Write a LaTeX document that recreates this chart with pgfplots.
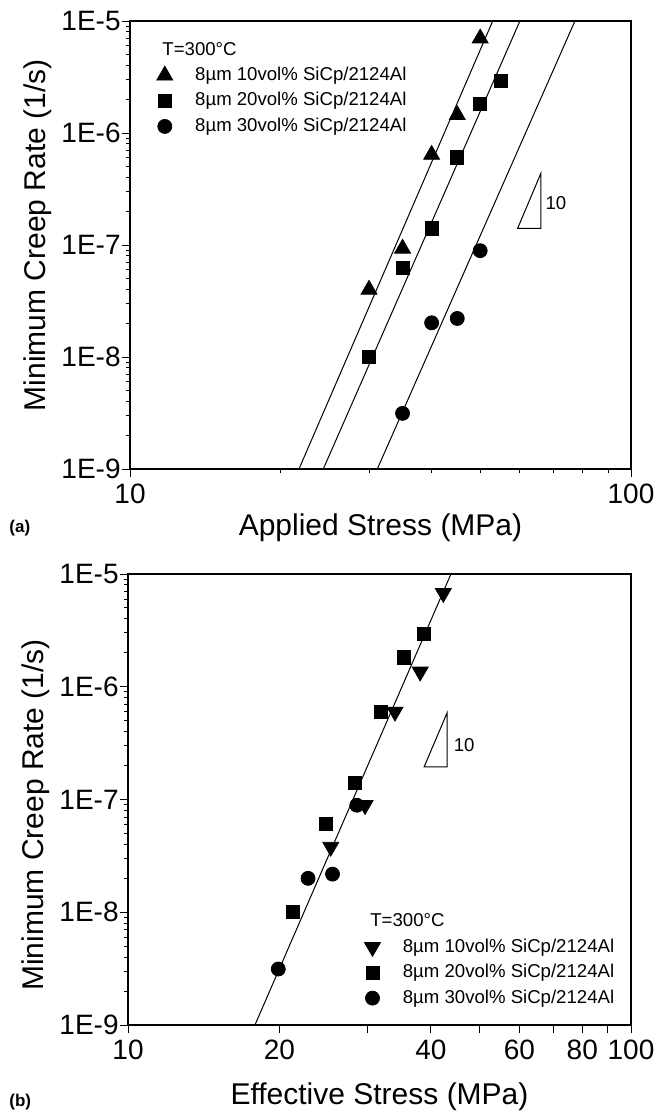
\documentclass[border=0pt]{standalone}
\usepackage{fontspec}
\setmainfont{Liberation Sans}
\usepackage{pgfplots}
\pgfplotsset{compat=1.18}

\begin{document}
\begin{tikzpicture}
\path[use as bounding box] (0,0) rectangle (333.5pt,-558pt);

% (a) applied stress
\begin{axis}[
  scale only axis,
  xmode=log, ymode=log,
  xmin=10, xmax=100, ymin=1e-9, ymax=1e-5,
  at={(65pt,-234.5pt)}, anchor=south west,
  width=250.5pt, height=224pt,
  axis line style={line width=0.7pt},
  tick style={line width=0.5pt, black},
  tick align=outside,
  tick pos=left,
  major tick length=4pt,
  minor tick length=2pt,
  xtick={10,100}, xticklabels={10,100},
  minor xtick={20,30,40,50,60,70,80,90},
  ytick={1e-9,1e-8,1e-7,1e-6,1e-5},
  yticklabels={1E-9,1E-8,1E-7,1E-6,1E-5},
  minor ytick={2e-9,3e-9,4e-9,5e-9,6e-9,7e-9,8e-9,9e-9,
               2e-8,3e-8,4e-8,5e-8,6e-8,7e-8,8e-8,9e-8,
               2e-7,3e-7,4e-7,5e-7,6e-7,7e-7,8e-7,9e-7,
               2e-6,3e-6,4e-6,5e-6,6e-6,7e-6,8e-6,9e-6},
  tick label style={font=\fontsize{14}{16}\selectfont},
  yticklabel style={inner sep=0.5pt},
  label style={font=\fontsize{15}{18}\selectfont},
  xlabel={Applied Stress (MPa)},
  ylabel={Minimum Creep Rate (1/s)},
  xlabel style={at={(axis description cs:0.5,-0.132)}, anchor=center},
  ylabel style={at={(axis description cs:-0.1836,0.522)}, anchor=center},
  legend image code/.code={\path (-5pt,0pt) (14pt,0pt); \draw[#1] plot coordinates {(0pt,0pt)};},
  legend style={draw=none, fill=none, inner sep=0pt,
    font=\fontsize{9.3}{11}\selectfont, row sep=1.75pt,
    nodes={text height=7pt, text depth=2pt, inner sep=1pt},
    at={(axis description cs:0.0479,0.904)}, anchor=north west},
  legend cell align=left,
]
\addplot[black, line width=0.5pt, no marks, forget plot] coordinates {(21.74,1e-9) (52.97,1e-5)};
\addplot[black, line width=0.5pt, no marks, forget plot] coordinates {(24.31,1e-9) (60.02,1e-5)};
\addplot[black, line width=0.5pt, no marks, forget plot] coordinates {(31.16,1e-9) (77.3,1e-5)};
\addplot[only marks, black, mark=triangle*, mark size=4.6pt] coordinates {(30,4.0e-8) (35,9.3e-8) (40,6.4e-7) (45,1.45e-6) (50,7.0e-6)};
\addlegendentry{8µm 10vol\% SiCp/2124Al}
\addplot[only marks, black, mark=square*, mark size=3.3pt] coordinates {(30,1.0e-8) (35,6.2e-8) (40,1.41e-7) (45,6.07e-7) (50,1.82e-6) (55,2.93e-6)};
\addlegendentry{8µm 20vol\% SiCp/2124Al}
\addplot[only marks, black, mark=*, mark size=3.5pt] coordinates {(35,3.14e-9) (40,2.02e-8) (45,2.21e-8) (50,8.9e-8)};
\addlegendentry{8µm 30vol\% SiCp/2124Al}
\draw[line width=0.5pt] (axis cs:59.4,1.41e-7) -- (axis cs:66.1,1.41e-7) -- (axis cs:66.1,4.37e-7) -- cycle;
\node[font=\fontsize{9.3}{11}\selectfont] at (axis cs:70.8,2.37e-7) {10};
\node[anchor=west, inner sep=0pt, font=\fontsize{9.3}{11}\selectfont] at (axis description cs:0.064,0.9375) {T=300°C};
\end{axis}

% (b) effective stress
\begin{axis}[
  scale only axis,
  xmode=log, ymode=log,
  xmin=10, xmax=100, ymin=1e-9, ymax=1e-5,
  at={(64pt,-512.5pt)}, anchor=south west,
  width=251.5pt, height=225.5pt,
  axis line style={line width=0.7pt},
  tick style={line width=0.5pt, black},
  tick align=outside,
  tick pos=left,
  major tick length=4pt,
  minor tick length=2pt,
  xtick={10,20,30,40,50,60,70,80,90,100},
  xticklabels={10,20,,40,,60,,80,,100},
  ytick={1e-9,1e-8,1e-7,1e-6,1e-5},
  yticklabels={1E-9,1E-8,1E-7,1E-6,1E-5},
  minor ytick={2e-9,3e-9,4e-9,5e-9,6e-9,7e-9,8e-9,9e-9,
               2e-8,3e-8,4e-8,5e-8,6e-8,7e-8,8e-8,9e-8,
               2e-7,3e-7,4e-7,5e-7,6e-7,7e-7,8e-7,9e-7,
               2e-6,3e-6,4e-6,5e-6,6e-6,7e-6,8e-6,9e-6},
  tick label style={font=\fontsize{14}{16}\selectfont},
  yticklabel style={inner sep=0.5pt},
  label style={font=\fontsize{15}{18}\selectfont},
  xlabel={Effective Stress (MPa)},
  ylabel={Minimum Creep Rate (1/s)},
  xlabel style={at={(axis description cs:0.5,-0.159)}, anchor=center},
  ylabel style={at={(axis description cs:-0.183,0.466)}, anchor=center},
  legend image code/.code={\path (-5pt,0pt) (14pt,0pt); \draw[#1] plot coordinates {(0pt,0pt)};},
  legend style={draw=none, fill=none, inner sep=0pt,
    font=\fontsize{9.3}{11}\selectfont, row sep=1.75pt,
    nodes={text height=7pt, text depth=2pt, inner sep=1pt},
    at={(axis description cs:0.4646,0.198)}, anchor=north west},
  legend cell align=left,
]
\addplot[black, line width=0.5pt, no marks, forget plot] coordinates {(17.88,1e-9) (43.86,1e-5)};
\addplot[only marks, black, mark=triangle*, mark size=4.6pt, mark options={rotate=180}] coordinates {(25.3,3.8e-8) (29.6,8.9e-8) (33.95,6.0e-7) (38.1,1.36e-6) (42.35,6.77e-6)};
\addlegendentry{8µm 10vol\% SiCp/2124Al}
\addplot[only marks, black, mark=square*, mark size=3.3pt] coordinates {(21.25,1.0e-8) (24.75,6.07e-8) (28.3,1.41e-7) (31.8,6.0e-7) (35.4,1.82e-6) (38.8,2.94e-6)};
\addlegendentry{8µm 20vol\% SiCp/2124Al}
\addplot[only marks, black, mark=*, mark size=3.5pt] coordinates {(19.9,3.14e-9) (22.8,2.0e-8) (25.5,2.18e-8) (28.5,8.9e-8)};
\addlegendentry{8µm 30vol\% SiCp/2124Al}
\draw[line width=0.5pt] (axis cs:38.8,1.95e-7) -- (axis cs:43.1,1.95e-7) -- (axis cs:43.1,5.89e-7) -- cycle;
\node[font=\fontsize{9.3}{11}\selectfont] at (axis cs:46.6,3.04e-7) {10};
\node[anchor=west, inner sep=0pt, font=\fontsize{9.3}{11}\selectfont] at (axis description cs:0.481,0.2328) {T=300°C};
\end{axis}

\node[anchor=west, inner sep=0pt, font=\bfseries\fontsize{8.5}{10}\selectfont] at (4.5pt,-264pt) {(a)};
\node[anchor=west, inner sep=0pt, font=\bfseries\fontsize{8.5}{10}\selectfont] at (4.5pt,-551pt) {(b)};
\end{tikzpicture}
\end{document}
